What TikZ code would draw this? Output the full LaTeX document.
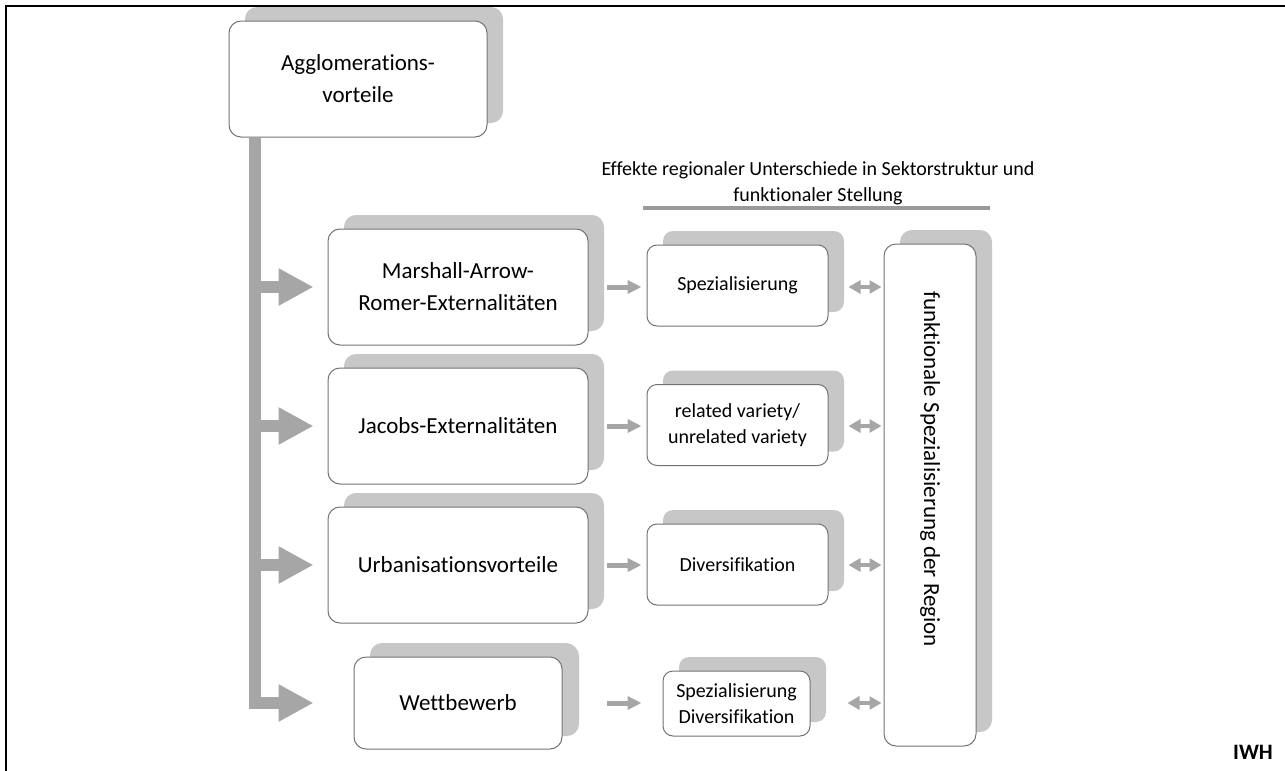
\documentclass[tikz,border=0pt]{standalone}
\usepackage{fontspec}
\setmainfont{Carlito}[Ligatures=NoCommon]
\usepackage{graphicx}
\usetikzlibrary{arrows.meta,shadows}

\tikzset{
  card/.style={draw=black!55, line width=0.5pt, fill=white, rounded corners=6pt,
    align=center, inner sep=2pt,
    general shadow={fill=black!22, shadow xshift=8pt, shadow yshift=7pt}},
  bigcard/.style={card, minimum width=130pt, minimum height=58pt,
    font=\fontsize{11.5}{16}\selectfont},
  smallcard/.style={card, rounded corners=5pt, minimum width=90.5pt, minimum height=40.5pt,
    font=\fontsize{10}{13}\selectfont},
  fatarrow/.style={draw=black!35, line width=6pt, line join=miter,
    -{Triangle[length=17.5pt,width=17.5pt]}},
  thinarrow/.style={draw=black!35, line width=2.5pt,
    -{Triangle[length=7pt,width=6.5pt]}},
  twinarrow/.style={draw=black!35, line width=2pt,
    {Triangle[length=6pt,width=6.5pt]}-{Triangle[length=6pt,width=6.5pt]}}
}

\begin{document}
\begin{tikzpicture}[x=0.5pt,y=-0.5pt]
  \useasboundingbox (0,0) rectangle (1285,771);
  \draw[line width=1pt] (6,771) -- (6,6) -- (1285,6);

  \node[bigcard, minimum width=129pt] (agg) at (358,79) {Agglomerations-\\vorteile};

  \node[bigcard] (mar) at (458,287) {Marshall-Arrow-\\Romer-Externalitäten};
  \node[bigcard] (jac) at (458,426) {Jacobs-Externalitäten};
  \node[bigcard] (urb) at (458,565) {Urbanisationsvorteile};
  \node[bigcard, minimum width=104pt, minimum height=46pt,
    general shadow={fill=black!22, shadow xshift=8.5pt, shadow yshift=6.5pt}] (wet) at (458,703) {Wettbewerb};

  \node[font=\fontsize{10}{13}\selectfont, align=center] (head) at (818,183)
    {Effekte regionaler Unterschiede in Sektorstruktur und\\funktionaler Stellung};
  \draw[black!40, line width=2pt] (643,208) -- (990,208);

  \node[smallcard] (spez) at (737.5,285.5) {Spezialisierung};
  \node[smallcard] (rel) at (737.5,425) {related variety/\\unrelated variety};
  \node[smallcard] (div) at (737.5,564.5) {Diversifikation};
  \node[smallcard, minimum width=73.5pt, minimum height=32.5pt] (sd) at (736.5,703.5)
    {Spezialisierung\\Diversifikation};

  \node[card, minimum width=46pt, minimum height=251pt,
    font=\fontsize{11.5}{14}\selectfont] (reg) at (930,495)
    {\rotatebox{-90}{funktionale Spezialisierung der Region\hspace{26pt}}};

  \node[font=\bfseries\fontsize{11}{13}\selectfont] (iwh) at (1253,752) {IWH};

  \coordinate (bar) at ([xshift=13pt]agg.south west);
  \draw[fatarrow, shorten >=20pt] (bar) -- (bar |- wet.west) -- (wet.west);
  \draw[fatarrow, shorten >=7pt] (bar |- mar.west) -- (mar.west);
  \draw[fatarrow, shorten >=7pt] (bar |- jac.west) -- (jac.west);
  \draw[fatarrow, shorten >=7pt] (bar |- urb.west) -- (urb.west);

  \draw[thinarrow, shorten <=9pt, shorten >=2.5pt] (mar.east) -- (spez.west |- mar.east);
  \draw[thinarrow, shorten <=9pt, shorten >=2.5pt] (jac.east) -- (rel.west |- jac.east);
  \draw[thinarrow, shorten <=9pt, shorten >=2.5pt] (urb.east) -- (div.west |- urb.east);
  \draw[thinarrow, shorten <=22pt, shorten >=10.5pt] (wet.east) -- (sd.west |- wet.east);

  \draw[twinarrow, shorten <=10pt, shorten >=1pt] (spez.east |- mar.east) -- (reg.west |- mar.east);
  \draw[twinarrow, shorten <=10pt, shorten >=1pt] (rel.east |- jac.east) -- (reg.west |- jac.east);
  \draw[twinarrow, shorten <=10pt, shorten >=1pt] (div.east |- urb.east) -- (reg.west |- urb.east);
  \draw[twinarrow, shorten <=18.5pt, shorten >=1pt] (sd.east |- wet.east) -- (reg.west |- wet.east);
\end{tikzpicture}
\end{document}
